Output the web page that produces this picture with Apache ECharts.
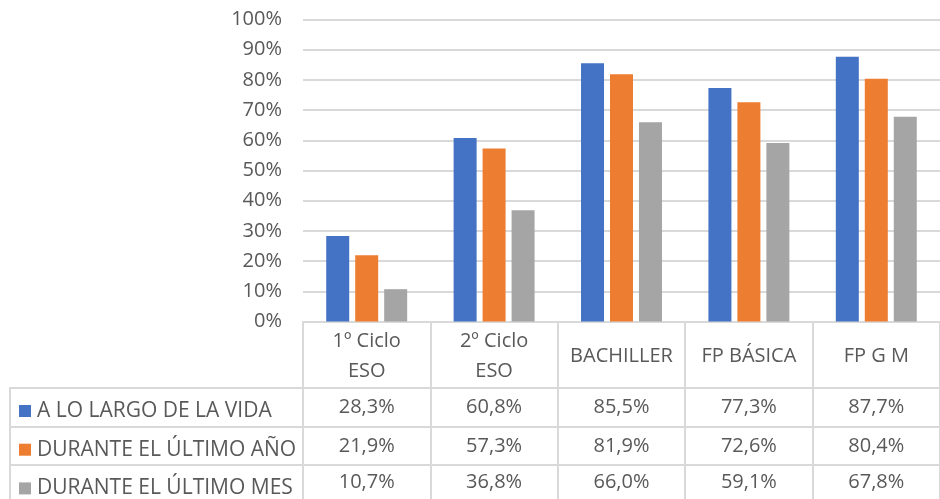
<!DOCTYPE html>
<html>
<head>
<meta charset="utf-8">
<script src="https://cdn.jsdelivr.net/npm/echarts@6/dist/echarts.min.js"></script>
<style>
  html, body { margin: 0; padding: 0; background: #fff; }
  #box { width: 940px; height: 499px; }
</style>
</head>
<body>
<div id="box"></div>
<script>
// datos
const categorias = ['1º Ciclo\nESO', '2º Ciclo\nESO', 'BACHILLER', 'FP BÁSICA', 'FP G M'];
const nombresSeries = ['A LO LARGO DE LA VIDA', 'DURANTE EL ÚLTIMO AÑO', 'DURANTE EL ÚLTIMO MES'];
const vida = [28.3, 60.8, 85.5, 77.3, 87.7];
const ultimoAno = [21.9, 57.3, 81.9, 72.6, 80.4];
const ultimoMes = [10.7, 36.8, 66.0, 59.1, 67.8];
const ticksY = [0, 10, 20, 30, 40, 50, 60, 70, 80, 90, 100];

const colores = ['#4472C4', '#ED7D31', '#A5A5A5'];
const gris = '#595959';
const linea = '#D9D9D9';
const fuente = '"Open Sans", sans-serif';

const seriesDatos = [vida, ultimoAno, ultimoMes];
const fmt = v => v.toFixed(1).replace('.', ',') + '%';

let myecharts = echarts.init(document.getElementById('box'));

// filas de la tabla de datos: un eje de categorías por fila
const filas = [86, 124.5, 160.5];
const ejesTabla = seriesDatos.map((d, i) => ({
  type: 'category',
  position: 'bottom',
  data: d.map(fmt),
  axisLine: {show: false},
  axisTick: {show: false},
  splitLine: {show: false},
  axisLabel: {
    interval: 0,
    margin: filas[i],
    verticalAlign: 'middle',
    color: gris,
    fontSize: 20,
    fontFamily: fuente
  }
}));

let option = {
  animation: false,
  grid: {left: 303, top: 19.5, width: 650, height: 302, containLabel: false},
  legend: {
    orient: 'vertical',
    left: 14,
    top: 395.5,
    height: 150,
    icon: 'rect',
    itemWidth: 12,
    itemHeight: 12,
    itemGap: 17.7,
    data: nombresSeries,
    textStyle: {color: gris, fontSize: 21, fontFamily: fuente, lineHeight: 20, padding: [0, 0, 0, 1]}
  },
  xAxis: [{
    type: 'category',
    data: categorias,
    axisLine: {show: true, lineStyle: {color: linea, width: 2}},
    axisTick: {show: true, interval: 0, length: 180, lineStyle: {color: linea, width: 2}},
    axisLabel: {
      interval: 0,
      margin: 34.5,
      verticalAlign: 'middle',
      lineHeight: 30,
      color: gris,
      fontSize: 20,
      fontFamily: fuente
    }
  }].concat(ejesTabla),
  yAxis: {
    type: 'value',
    min: ticksY[0],
    max: ticksY[ticksY.length - 1],
    interval: 10,
    axisLine: {show: false},
    axisTick: {show: false},
    splitLine: {lineStyle: {color: linea, width: 2}},
    axisLabel: {
      margin: 21,
      color: gris,
      fontSize: 20,
      fontFamily: fuente,
      formatter: '{value}%'
    }
  },
  graphic: [
    {type: 'line', shape: {x1: 10, y1: 388, x2: 953, y2: 388}, style: {stroke: linea, lineWidth: 2}},
    {type: 'line', shape: {x1: 10, y1: 427, x2: 953, y2: 427}, style: {stroke: linea, lineWidth: 2}},
    {type: 'line', shape: {x1: 10, y1: 465, x2: 953, y2: 465}, style: {stroke: linea, lineWidth: 2}},
    {type: 'line', shape: {x1: 10, y1: 387, x2: 10, y2: 499}, style: {stroke: linea, lineWidth: 2}}
  ],
  series: seriesDatos.map((d, i) => ({
    name: nombresSeries[i],
    type: 'bar',
    data: d,
    xAxisIndex: 0,
    barWidth: 23,
    barGap: '26%',
    itemStyle: {color: colores[i]}
  }))
};
myecharts.setOption(option);
</script>
</body>
</html>
